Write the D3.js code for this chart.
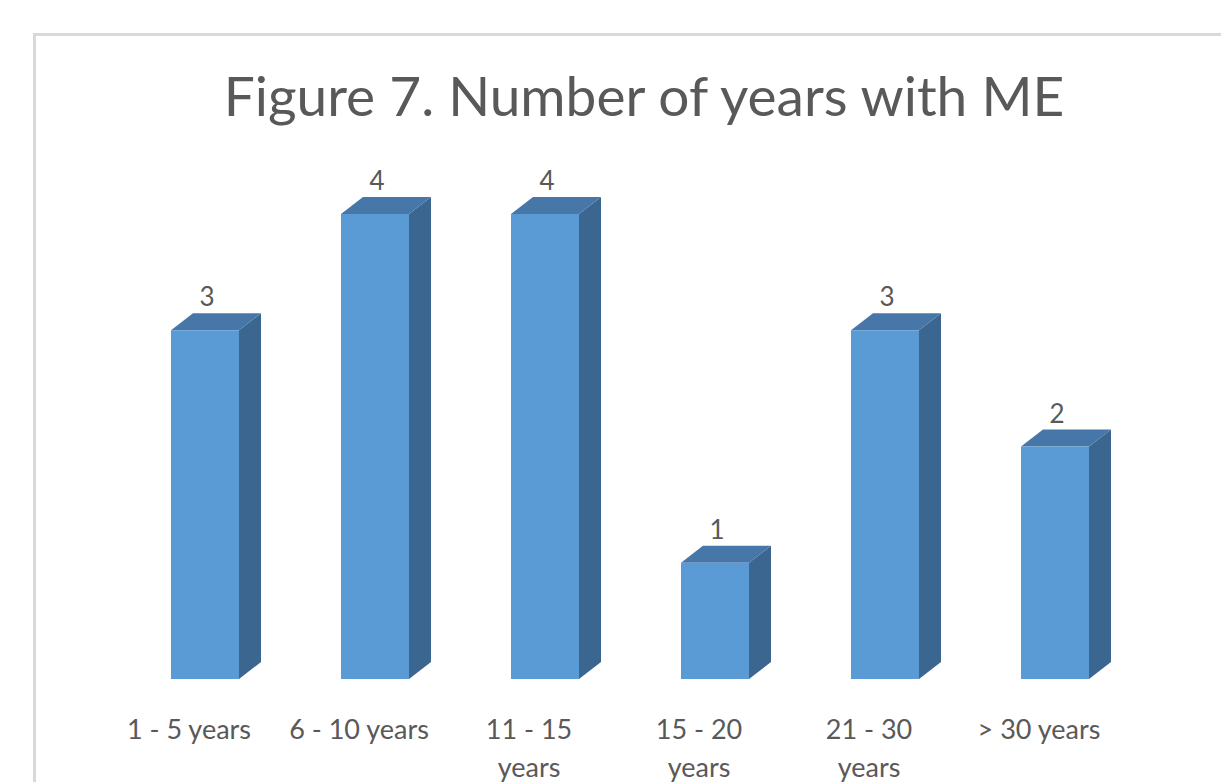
<!DOCTYPE html>
<html>
<head>
<meta charset="utf-8">
<script src="https://cdn.jsdelivr.net/npm/d3@7"></script>
<style>
  body { margin: 0; background: #fff; }
  svg { display: block; }
</style>
</head>
<body>
<svg id="chart" width="1221" height="782"></svg>
<script>
// data
const categories = ['1 - 5 years', '6 - 10 years', '11 - 15 years', '15 - 20 years', '21 - 30 years', '> 30 years'];
const labelLines = [['1 - 5 years'], ['6 - 10 years'], ['11 - 15', 'years'], ['15 - 20', 'years'], ['21 - 30', 'years'], ['> 30 years']];
const values = [3, 4, 4, 1, 3, 2];
const title = 'Figure 7. Number of years with ME';

const width = 1221, height = 782;
const font = 'Lato, "Open Sans", sans-serif';
const textColor = '#595959';
const depth = { dx: 22, dy: -17 };

const svg = d3.select('#chart');

// chart area border (runs off the right and bottom edge)
svg.append('rect')
  .attr('x', 34.5).attr('y', 34.5)
  .attr('width', 1300).attr('height', 900)
  .attr('fill', '#fff')
  .attr('stroke', '#d9d9d9')
  .attr('stroke-width', 3);

svg.append('text')
  .attr('x', 644).attr('y', 116)
  .attr('text-anchor', 'middle')
  .attr('font-family', font)
  .attr('font-size', 55)
  .attr('fill', textColor)
  .text(title);

const x = d3.scaleBand()
  .domain(categories)
  .range([120, 1140])
  .paddingInner(0.6)
  .paddingOuter(0.3);

const y = d3.scaleLinear()
  .domain([0, 4])
  .range([679, 214]);

const bw = x.bandwidth();
const g = svg.append('g');

const bars = g.selectAll('g.bar')
  .data(categories.map((c, i) => ({ c, v: values[i], lines: labelLines[i] })))
  .enter()
  .append('g')
  .attr('class', 'bar');

// side face
bars.append('path')
  .attr('fill', '#3b6690')
  .attr('d', d => {
    const x1 = x(d.c) + bw, yt = y(d.v), yb = y(0);
    return `M${x1},${yt}L${x1 + depth.dx},${yt + depth.dy}L${x1 + depth.dx},${yb + depth.dy}L${x1},${yb}Z`;
  });

// top face
bars.append('path')
  .attr('fill', '#4677a8')
  .attr('d', d => {
    const x0 = x(d.c), yt = y(d.v);
    return `M${x0},${yt}L${x0 + depth.dx},${yt + depth.dy}L${x0 + bw + depth.dx},${yt + depth.dy}L${x0 + bw},${yt}Z`;
  });

// front face
bars.append('rect')
  .attr('x', d => x(d.c))
  .attr('y', d => y(d.v))
  .attr('width', bw)
  .attr('height', d => y(0) - y(d.v))
  .attr('fill', '#5b9bd5');

// value labels
bars.append('text')
  .attr('x', d => x(d.c) + bw / 2 + 2)
  .attr('y', d => y(d.v) - 24)
  .attr('text-anchor', 'middle')
  .attr('font-family', font)
  .attr('font-size', 26)
  .attr('fill', textColor)
  .text(d => d.v);

// category labels
bars.append('text')
  .attr('text-anchor', 'middle')
  .attr('font-family', font)
  .attr('font-size', 27)
  .attr('fill', textColor)
  .selectAll('tspan')
  .data(d => d.lines.map(l => ({ l, cx: x(d.c) + bw / 2 - 16 })))
  .enter()
  .append('tspan')
  .attr('x', d => d.cx)
  .attr('y', (d, i) => 739 + i * 38)
  .text(d => d.l);
</script>
</body>
</html>
